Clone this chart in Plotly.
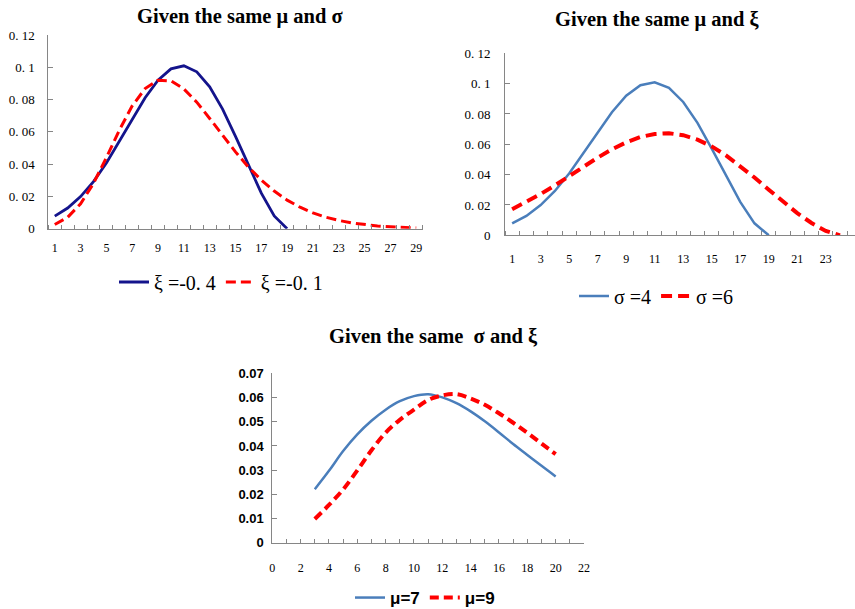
import plotly.graph_objects as go

# ---------------- data ----------------
# Top-left: same mu and sigma, different xi
x_tl = list(range(1, 30))
xi_m04 = [0.0078, 0.0128, 0.0199, 0.0292, 0.0407, 0.0540, 0.0679, 0.0811, 0.0920, 0.0990,
          0.1009, 0.0972, 0.0879, 0.0741, 0.0572, 0.0391, 0.0220, 0.0079, 0.0]
xi_m01 = [0.0026, 0.0071, 0.0154, 0.0281, 0.0441, 0.0610, 0.0761, 0.0868, 0.0920, 0.0916,
          0.0866, 0.0784, 0.0683, 0.0578, 0.0476, 0.0382, 0.0301, 0.0233, 0.0177, 0.0133,
          0.0098, 0.0071, 0.0051, 0.0036, 0.0025, 0.0017, 0.0012, 0.0008, 0.0005]

# Top-right: same mu and xi, different sigma
x_tr = list(range(1, 25))
sig4 = [0.0078, 0.0128, 0.0199, 0.0292, 0.0407, 0.0540, 0.0679, 0.0811, 0.0920, 0.0990,
        0.1009, 0.0972, 0.0879, 0.0741, 0.0572, 0.0391, 0.0220, 0.0079, 0.0]
sig6 = [0.0172, 0.0219, 0.0272, 0.0329, 0.0391, 0.0453, 0.0512, 0.0567, 0.0613, 0.0648,
        0.0668, 0.0673, 0.0660, 0.0631, 0.0586, 0.0527, 0.0458, 0.0381, 0.0301, 0.0221,
        0.0146, 0.0081, 0.0029, 0.0]

# Bottom: same sigma and xi, different mu
x_b = list(range(3, 21))
mu7 = [0.0221, 0.0297, 0.0379, 0.0448, 0.0504, 0.0550, 0.0585, 0.0606, 0.0614, 0.0601,
       0.0577, 0.0543, 0.0502, 0.0456, 0.0408, 0.0363, 0.0318, 0.0274]
mu9 = [0.0098, 0.0156, 0.0220, 0.0299, 0.0382, 0.0455, 0.0508, 0.0550, 0.0590, 0.0609,
       0.0614, 0.0596, 0.0570, 0.0535, 0.0496, 0.0454, 0.0410, 0.0366]

y_top_vals = [0, 0.02, 0.04, 0.06, 0.08, 0.1, 0.12]
y_top_text = ["0", "0. 02", "0. 04", "0. 06", "0. 08", "0. 1", "0. 12"]
y_bot_vals = [0, 0.01, 0.02, 0.03, 0.04, 0.05, 0.06, 0.07]
y_bot_text = ["0", "0.01", "0.02", "0.03", "0.04", "0.05", "0.06", "0.07"]

titles = ["Given the same μ and σ", "Given the same μ and ξ", "Given the same  σ and ξ"]

NAVY = "#14148C"
BLUE = "#4A7EBB"
RED = "#FF0000"
AX = "#868686"
W, H = 855, 609

fig = go.Figure()

fig.add_trace(go.Scatter(x=x_tl[:len(xi_m04)], y=xi_m04, mode="lines", name="ξ =-0. 4",
                         line=dict(color=NAVY, width=2.8), xaxis="x", yaxis="y", legend="legend"))
fig.add_trace(go.Scatter(x=x_tl, y=xi_m01, mode="lines", name="ξ =-0. 1",
                         line=dict(color=RED, width=3, dash="10px,5px"), xaxis="x", yaxis="y", legend="legend"))

fig.add_trace(go.Scatter(x=x_tr[:len(sig4)], y=sig4, mode="lines", name="σ =4",
                         line=dict(color=BLUE, width=2.5), xaxis="x2", yaxis="y2", legend="legend2"))
fig.add_trace(go.Scatter(x=x_tr, y=sig6, mode="lines", name="σ =6",
                         line=dict(color=RED, width=4, dash="11px,6px"), xaxis="x2", yaxis="y2", legend="legend2"))

fig.add_trace(go.Scatter(x=x_b, y=mu7, mode="lines", name="μ=7", line_shape="spline",
                         line=dict(color=BLUE, width=2.5), xaxis="x3", yaxis="y3", legend="legend3"))
fig.add_trace(go.Scatter(x=x_b, y=mu9, mode="lines", name="μ=9", line_shape="spline",
                         line=dict(color=RED, width=4, dash="9px,5px"), xaxis="x3", yaxis="y3", legend="legend3"))

serif = "Liberation Serif"
sans = "Liberation Sans"

def px_x(p):
    return p / W

def px_y(p):
    return 1 - p / H

common_x = dict(showline=True, linecolor=AX, linewidth=1, showgrid=False, zeroline=False,
                ticks="", tickfont=dict(family=serif, size=12, color="black"))
common_y = dict(showline=True, linecolor=AX, linewidth=1, showgrid=False, zeroline=False,
                ticks="inside", ticklen=5, tickcolor=AX)

fig.update_layout(
    width=W, height=H, margin=dict(l=0, r=0, t=0, b=0, autoexpand=False),
    paper_bgcolor="white", plot_bgcolor="white",
    xaxis=dict(common_x, domain=[px_x(48.3), px_x(422.7)], range=[0.5, 29.5],
               tickmode="array", tickvals=list(range(1, 30, 2)), ticklabelstandoff=8,
               minor=dict(tickmode="linear", tick0=0.5, dtick=1, ticks="inside", ticklen=4, tickcolor=AX),
               anchor="y"),
    yaxis=dict(common_y, domain=[px_y(228.7), px_y(35)], range=[0, 0.12],
               tickmode="array", tickvals=y_top_vals, ticktext=y_top_text,
               tickfont=dict(family=serif, size=13, color="black"), ticklabelstandoff=10, anchor="x"),
    xaxis2=dict(common_x, domain=[px_x(505), 1.0], range=[0.5, 25.05],
                tickmode="array", tickvals=list(range(1, 26, 2)), ticklabelstandoff=12,
                minor=dict(tickmode="linear", tick0=0.5, dtick=1, ticks="inside", ticklen=4, tickcolor=AX),
                anchor="y2"),
    yaxis2=dict(common_y, domain=[px_y(235.3), px_y(53.3)], range=[0, 0.12],
                tickmode="array", tickvals=y_top_vals, ticktext=y_top_text,
                tickfont=dict(family=serif, size=13, color="black"), ticklabelstandoff=11, anchor="x2"),
    xaxis3=dict(common_x, domain=[px_x(272.3), px_x(584)], range=[0, 22],
                tickmode="linear", tick0=0, dtick=2, ticks="inside", ticklen=4, tickcolor=AX,
                ticklabelstandoff=14,
                minor=dict(tickmode="linear", tick0=0, dtick=1, ticks="inside", ticklen=4, tickcolor=AX),
                anchor="y3"),
    yaxis3=dict(common_y, domain=[px_y(542.7), px_y(373.4)], range=[0, 0.07],
                tickmode="array", tickvals=y_bot_vals, ticktext=y_bot_text,
                tickfont=dict(family=sans, size=13, color="black", weight="bold"), ticklabelstandoff=5,
                anchor="x3"),
    legend=dict(orientation="h", x=px_x(114), xanchor="left", y=px_y(282), yanchor="middle",
                font=dict(family=serif, size=20, color="black"), bgcolor="rgba(0,0,0,0)", itemwidth=30),
    legend2=dict(orientation="h", x=px_x(574), xanchor="left", y=px_y(296), yanchor="middle",
                 font=dict(family=serif, size=20, color="black"), bgcolor="rgba(0,0,0,0)", itemwidth=30),
    legend3=dict(orientation="h", x=px_x(350), xanchor="left", y=px_y(598), yanchor="middle",
                 font=dict(family=sans, size=17, color="black", weight="bold"), bgcolor="rgba(0,0,0,0)",
                 itemwidth=30),
    showlegend=True,
)

title_pos = [(240, 17), (657, 20), (434, 336)]
for t, (cx, cy) in zip(titles, title_pos):
    fig.add_annotation(text=t, x=px_x(cx), y=px_y(cy), xref="paper", yref="paper",
                       xanchor="center", yanchor="middle", showarrow=False,
                       font=dict(family=serif, size=20.5, color="black", weight="bold"))

fig.write_html("out.html")
